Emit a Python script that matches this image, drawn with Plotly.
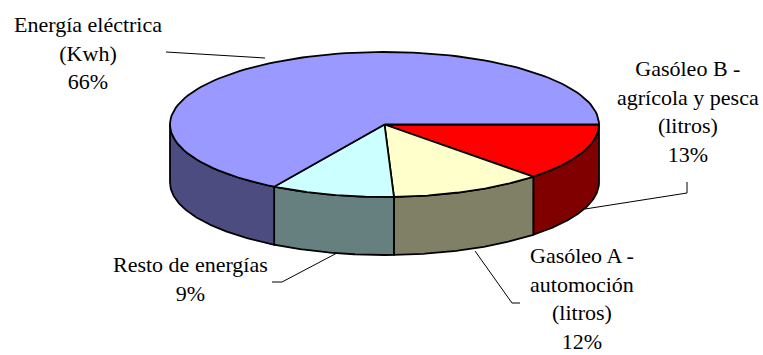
import numpy as np
import plotly.graph_objects as go

# Energy consumption shares (%), listed clockwise from the 3 o'clock position
categories = [
    "Gasóleo B -<br>agrícola y pesca<br>(litros)",
    "Gasóleo A -<br>automoción<br>(litros)",
    "Resto de energías",
    "Energía eléctrica<br>(Kwh)",
]
values = [12.8, 11.5, 9.3, 66.4]
top_colors = ["#FF0000", "#FFFFCC", "#CCFFFF", "#9999FF"]

# Label placement (pixel space) and leader-line paths
label_pos = [(688, 111), (582, 298), (190, 279), (88, 53)]
leaders = [
    [(585, 209), (687, 193), (687, 182)],
    [(475, 251), (512, 303), (520, 303)],
    [(272, 282), (282, 282), (337, 253)],
    [(166, 52), (265, 58)],
]

# Projected pie geometry (tilted disc with a visible rim)
CX, CY, RX, RY, DEPTH = 384.5, 124.5, 214.5, 72.5, 58
FONT = "Liberation Serif"


def shade(hex_color, f=0.5):
    r, g, b = (int(hex_color[i:i + 2], 16) for i in (1, 3, 5))
    return "#{:02X}{:02X}{:02X}".format(round(r * f), round(g * f), round(b * f))


def arc(a0, a1, dy=0.0, n=120):
    t = np.radians(np.linspace(a0, a1, n))
    return CX + RX * np.cos(t), CY + RY * np.sin(t) + dy


total = float(sum(values))
bounds = np.concatenate([[0.0], np.cumsum(values) / total * 360.0])

fig = go.Figure()

# Rim (front half only, screen angles 0..180 are the near side)
for i, col in enumerate(top_colors):
    a0, a1 = max(bounds[i], 0.0), min(bounds[i + 1], 180.0)
    if a1 <= a0:
        continue
    xt, yt = arc(a0, a1)
    xb, yb = arc(a1, a0, dy=DEPTH)
    fig.add_trace(go.Scatter(
        x=np.concatenate([xt, xb, xt[:1]]),
        y=np.concatenate([yt, yb, yt[:1]]),
        mode="lines", fill="toself", fillcolor=shade(col),
        line=dict(color="black", width=1.8),
        hoverinfo="skip", showlegend=False,
    ))

# Top faces
for i, col in enumerate(top_colors):
    xa, ya = arc(bounds[i], bounds[i + 1])
    fig.add_trace(go.Scatter(
        x=np.concatenate([[CX], xa, [CX]]),
        y=np.concatenate([[CY], ya, [CY]]),
        mode="lines", fill="toself", fillcolor=col,
        line=dict(color="black", width=1.8),
        hoverinfo="skip", showlegend=False,
    ))

# Labels with percentages
for name, v, (lx, ly) in zip(categories, values, label_pos):
    pct = round(v / total * 100)
    fig.add_annotation(
        x=lx, y=ly, xref="x", yref="y",
        text=f"{name}<br>{pct}%", showarrow=False,
        xanchor="center", yanchor="middle", align="center",
        font=dict(family=FONT, size=22, color="black"),
    )

for pts in leaders:
    path = "M " + " L ".join(f"{x},{y}" for x, y in pts)
    fig.add_shape(type="path", path=path, xref="x", yref="y",
                  line=dict(color="black", width=1))

fig.update_xaxes(visible=False, range=[0, 763], fixedrange=True)
fig.update_yaxes(visible=False, range=[355, 0], fixedrange=True)
fig.update_layout(
    width=763, height=355,
    margin=dict(l=0, r=0, t=0, b=0),
    paper_bgcolor="white", plot_bgcolor="white",
    font=dict(family=FONT),
)

fig.write_html("out.html")
